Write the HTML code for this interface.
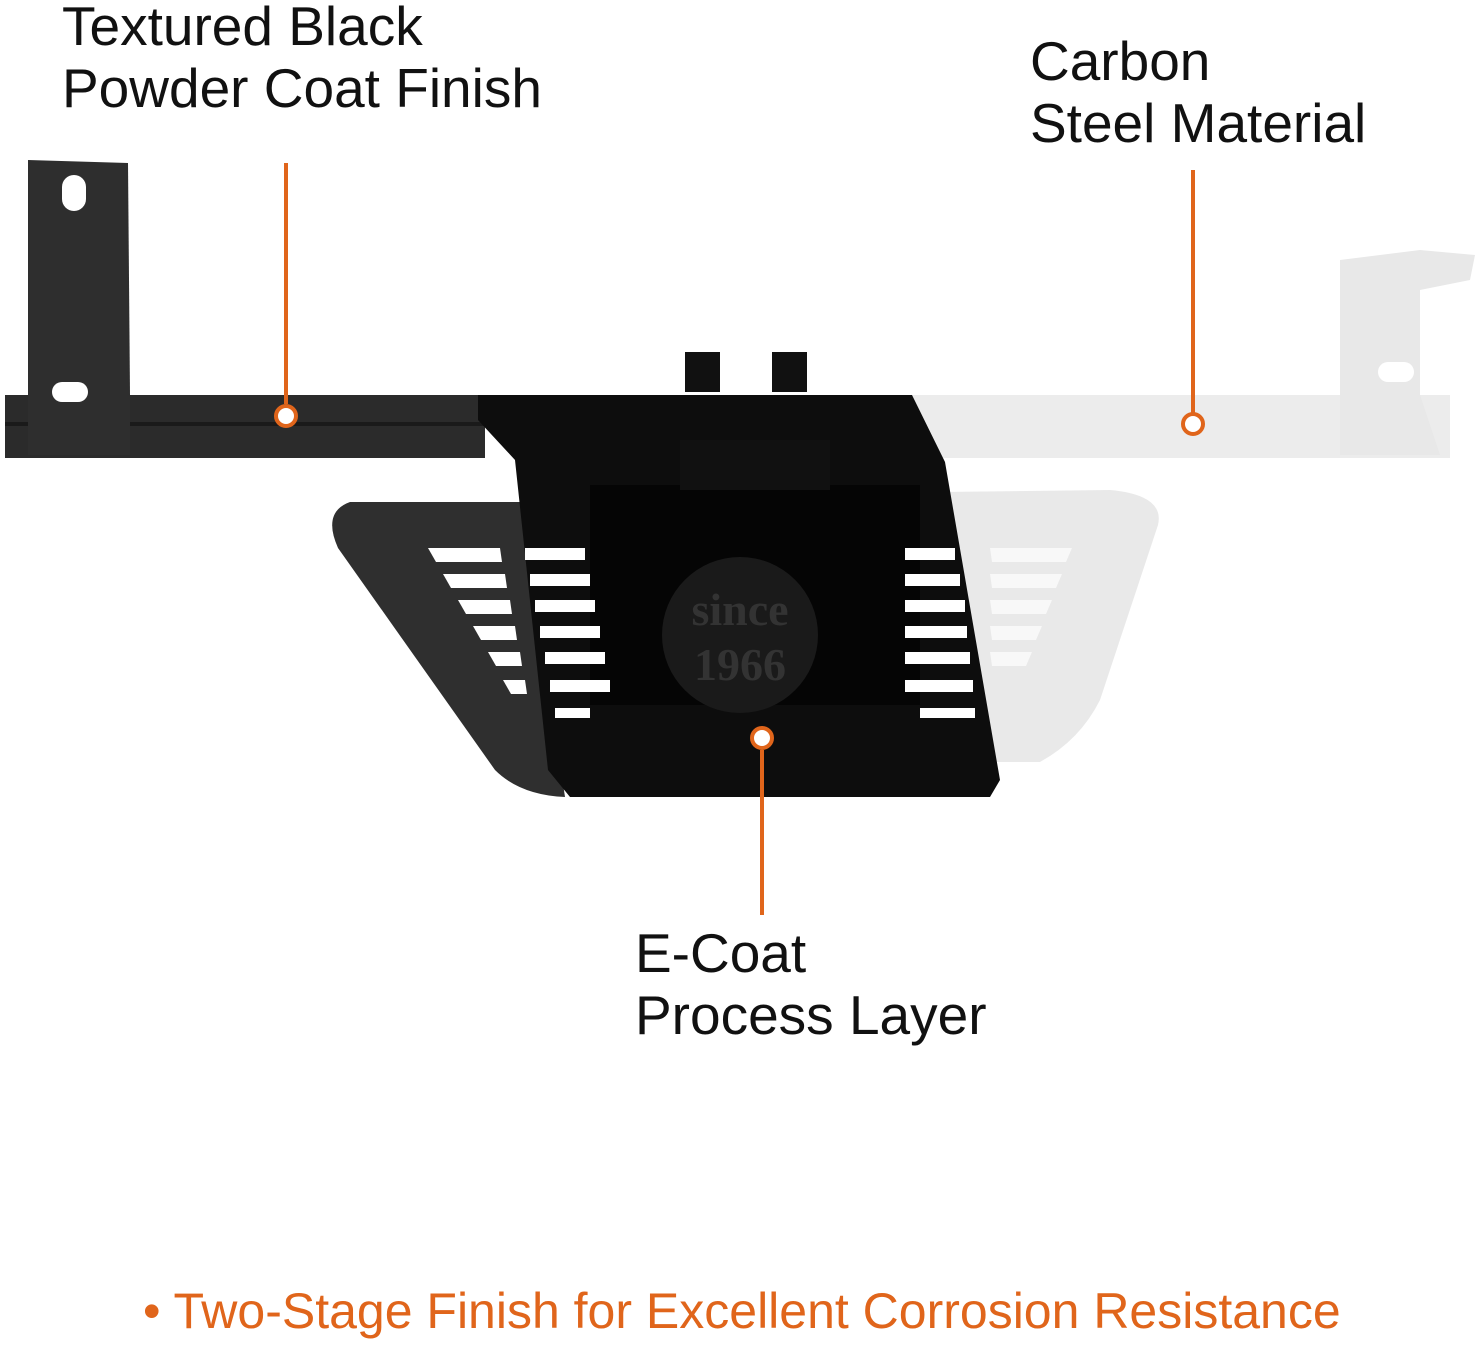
<!DOCTYPE html>
<html><head><meta charset="utf-8"><style>
html,body{margin:0;padding:0;background:#fff;width:1478px;height:1345px;overflow:hidden}
.t{position:absolute;font-family:"Liberation Sans",sans-serif;color:#111;font-size:55px;line-height:62px}
</style></head><body>
<svg width="1478" height="1345" style="position:absolute;left:0;top:0">
<rect x="5" y="395" width="480" height="63" fill="#2b2b2b"/>
<rect x="5" y="422" width="480" height="4" fill="#1a1a1a"/>
<polygon points="28,160 128,163 130,395 130,455 28,455" fill="#2e2e2e"/>
<rect x="62" y="175" width="24" height="36" rx="12" fill="#fff"/>
<rect x="52" y="382" width="36" height="20" rx="10" fill="#fff"/>
<rect x="905" y="395" width="545" height="63" fill="#ececec"/>
<polygon points="1340,260 1420,250 1475,255 1470,280 1420,290 1420,395 1440,455 1340,455" fill="#e8e8e8"/>
<rect x="1378" y="362" width="36" height="20" rx="10" fill="#fff"/>
<!-- left step dark -->
<path d="M350,502 L520,502 L565,797 Q520,795 495,770 L338,548 Q322,512 350,502 Z" fill="#2f2f2f"/>
<g fill="#fff">
<polygon points="428,548 500,548 502,562 436,562"/>
<polygon points="443,574 505,574 507,588 451,588"/>
<polygon points="458,600 510,600 512,614 466,614"/>
<polygon points="473,626 515,626 517,640 481,640"/>
<polygon points="488,652 520,652 522,666 496,666"/>
<polygon points="503,680 525,680 527,694 511,694"/>
</g>
<!-- right step light -->
<path d="M940,492 L1110,490 Q1165,495 1158,525 L1100,700 Q1080,740 1040,762 L980,762 Z" fill="#e9e9e9"/>
<g fill="#f8f8f8">
<polygon points="990,548 1072,548 1066,562 992,562"/>
<polygon points="990,574 1062,574 1056,588 992,588"/>
<polygon points="990,600 1052,600 1046,614 992,614"/>
<polygon points="990,626 1042,626 1036,640 992,640"/>
<polygon points="990,652 1032,652 1026,666 992,666"/>
</g>
<!-- middle black section -->
<polygon points="478,395 912,395 945,462 1000,780 990,797 570,797 548,770 515,460 478,420" fill="#0d0d0d"/>
<rect x="590" y="485" width="330" height="220" fill="#050505"/>
<g fill="#fff">
<rect x="525" y="548" width="60" height="12"/><rect x="905" y="548" width="50" height="12"/>
<rect x="530" y="574" width="60" height="12"/><rect x="905" y="574" width="55" height="12"/>
<rect x="535" y="600" width="60" height="12"/><rect x="905" y="600" width="60" height="12"/>
<rect x="540" y="626" width="60" height="12"/><rect x="905" y="626" width="62" height="12"/>
<rect x="545" y="652" width="60" height="12"/><rect x="905" y="652" width="65" height="12"/>
<rect x="550" y="680" width="60" height="12"/><rect x="905" y="680" width="68" height="12"/>
<rect x="555" y="708" width="35" height="10"/><rect x="920" y="708" width="55" height="10"/>
</g>
<circle cx="740" cy="635" r="78" fill="#1a1a1a"/>
<text x="740" y="625" font-family="Liberation Serif,serif" font-size="46" font-weight="bold" fill="#333" text-anchor="middle">since</text>
<text x="740" y="680" font-family="Liberation Serif,serif" font-size="46" font-weight="bold" fill="#333" text-anchor="middle">1966</text>
<rect x="680" y="440" width="150" height="50" fill="#111"/>
<rect x="685" y="352" width="35" height="40" fill="#111"/>
<rect x="772" y="352" width="35" height="40" fill="#111"/>
<g stroke="#e0651b" stroke-width="4" fill="#fff">
<line x1="286" y1="163" x2="286" y2="404"/>
<line x1="1193" y1="170" x2="1193" y2="413"/>
<line x1="762" y1="750" x2="762" y2="915"/>
<circle cx="286" cy="416" r="10"/>
<circle cx="1193" cy="424" r="10"/>
<circle cx="762" cy="738" r="10"/>
</g>
</svg>
<div class="t" style="left:62px;top:-5px">Textured Black<br>Powder Coat Finish</div>
<div class="t" style="left:1030px;top:30px">Carbon<br>Steel Material</div>
<div class="t" style="left:635px;top:922px">E-Coat<br>Process Layer</div>
<div class="t" style="left:143px;top:1280px;color:#e0651b;font-size:50px">• Two-Stage Finish for Excellent Corrosion Resistance</div>
</body></html>
